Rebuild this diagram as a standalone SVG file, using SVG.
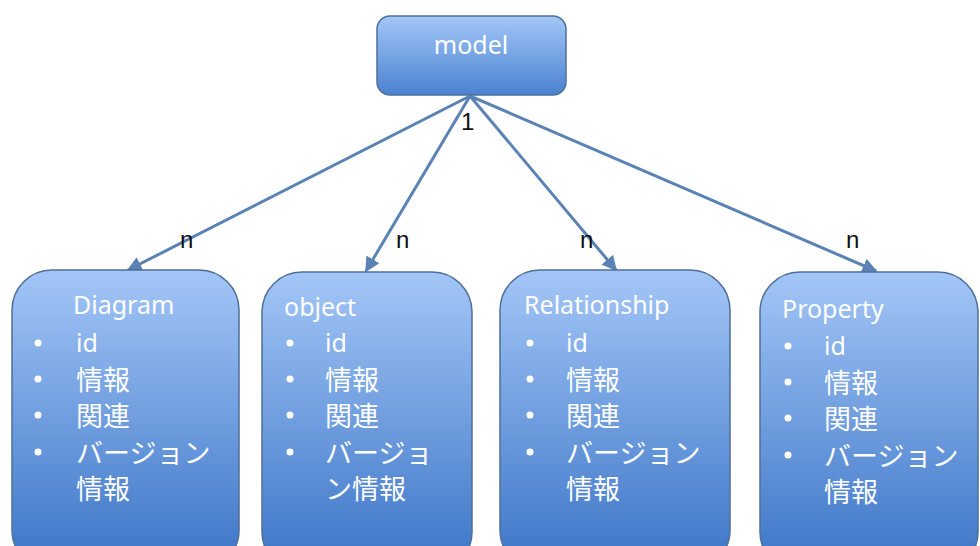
<svg xmlns="http://www.w3.org/2000/svg" width="980" height="546" viewBox="0 0 980 546">
<defs>
<linearGradient id="g" x1="0" y1="0" x2="0" y2="1">
<stop offset="0" stop-color="#a3c6f7"/>
<stop offset="1" stop-color="#3b74c6"/>
</linearGradient>
<linearGradient id="gm" x1="0" y1="0" x2="0" y2="1">
<stop offset="0" stop-color="#a3c6f7"/>
<stop offset="1" stop-color="#4a82d0"/>
</linearGradient>
<marker id="ah" viewBox="0 0 10 10" refX="9" refY="5" markerWidth="5" markerHeight="5" orient="auto">
<path d="M0,0 L10,5 L0,10 z" fill="#5a82b4"/>
</marker>
<style>
.box{fill:url(#g);stroke:#4f6f99;stroke-width:1.5}
.t{font-family:"Noto Sans","Noto Sans CJK JP",sans-serif;font-size:25px;fill:#ffffff}
.j{font-family:"Noto Sans CJK JP",sans-serif;font-size:27px;fill:#ffffff}
.b{fill:#ffffff}
.lbl{font-family:"Liberation Sans",sans-serif;font-size:24px;fill:#111111}
.c{stroke:#5a82b4;stroke-width:3;fill:none;marker-end:url(#ah)}
</style>
</defs>
<rect width="980" height="546" fill="#ffffff"/>
<g id="connectors">
<line class="c" x1="470" y1="96" x2="128" y2="270"/>
<line class="c" x1="470" y1="96" x2="366" y2="271"/>
<line class="c" x1="470" y1="96" x2="616" y2="270"/>
<line class="c" x1="470" y1="96" x2="876" y2="271"/>
<text class="lbl" x="461" y="130">1</text>
<text class="lbl" x="180" y="248">n</text>
<text class="lbl" x="396" y="248">n</text>
<text class="lbl" x="580" y="248">n</text>
<text class="lbl" x="846" y="248">n</text>
</g>
<g id="model">
<rect x="377" y="16" width="189" height="79" rx="13" fill="url(#gm)" stroke="#4f6f99" stroke-width="1.5"/>
<text class="t" x="471" y="54" text-anchor="middle">model</text>
</g>
<g id="diagram">
<rect class="box" x="12" y="270" width="227" height="300" rx="40"/>
<text class="t" x="73" y="314">Diagram</text>
<circle class="b" cx="38" cy="343" r="3.5"/><text class="t" x="76" y="352">id</text>
<circle class="b" cx="38" cy="379" r="3.5"/><text class="j" x="76" y="390">情報</text>
<circle class="b" cx="38" cy="415" r="3.5"/><text class="j" x="76" y="426">関連</text>
<circle class="b" cx="38" cy="452" r="3.5"/><text class="j" x="76" y="463">バージョン</text>
<text class="j" x="76" y="499">情報</text>
</g>
<g id="object">
<rect class="box" x="262" y="272" width="210" height="300" rx="40"/>
<text class="t" x="284" y="316">object</text>
<circle class="b" cx="290" cy="343" r="3.5"/><text class="t" x="325" y="352">id</text>
<circle class="b" cx="290" cy="379" r="3.5"/><text class="j" x="325" y="390">情報</text>
<circle class="b" cx="290" cy="415" r="3.5"/><text class="j" x="325" y="426">関連</text>
<circle class="b" cx="290" cy="452" r="3.5"/><text class="j" x="325" y="463">バージョ</text>
<text class="j" x="325" y="499">ン情報</text>
</g>
<g id="relationship">
<rect class="box" x="500" y="270" width="230" height="300" rx="40"/>
<text class="t" x="524" y="314">Relationship</text>
<circle class="b" cx="530" cy="343" r="3.5"/><text class="t" x="566" y="352">id</text>
<circle class="b" cx="530" cy="379" r="3.5"/><text class="j" x="566" y="390">情報</text>
<circle class="b" cx="530" cy="415" r="3.5"/><text class="j" x="566" y="426">関連</text>
<circle class="b" cx="530" cy="452" r="3.5"/><text class="j" x="566" y="463">バージョン</text>
<text class="j" x="566" y="499">情報</text>
</g>
<g id="property">
<rect class="box" x="760" y="272" width="218" height="300" rx="40"/>
<text class="t" x="782" y="318">Property</text>
<circle class="b" cx="788" cy="346" r="3.5"/><text class="t" x="824" y="355">id</text>
<circle class="b" cx="788" cy="382" r="3.5"/><text class="j" x="824" y="393">情報</text>
<circle class="b" cx="788" cy="418" r="3.5"/><text class="j" x="824" y="429">関連</text>
<circle class="b" cx="788" cy="455" r="3.5"/><text class="j" x="824" y="466">バージョン</text>
<text class="j" x="824" y="502">情報</text>
</g>
</svg>
